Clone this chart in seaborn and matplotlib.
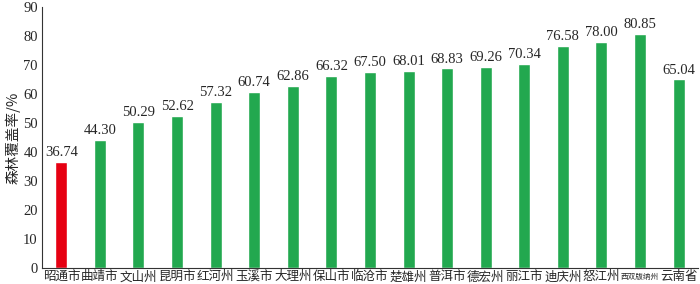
import matplotlib.pyplot as plt
import seaborn as sns
import pandas as pd
import numpy as np
from matplotlib.ticker import FixedLocator

# 数据
regions = ['昭通市', '曲靖市', '文山州', '昆明市', '红河州', '玉溪市', '大理州', '保山市',
           '临沧市', '楚雄州', '普洱市', '德宏州', '丽江市', '迪庆州', '怒江州', '西双版纳州', '云南省']
coverage = [36.74, 44.30, 50.29, 52.62, 57.32, 60.74, 62.86, 66.32,
            67.50, 68.01, 68.83, 69.26, 70.34, 76.58, 78.00, 80.85, 65.04]
colors = ['#E60012'] + ['#22A84F'] * (len(regions) - 1)

df = pd.DataFrame({'地区': regions, '森林覆盖率': coverage})

sns.set_style('white')
plt.rcParams['font.family'] = ['Liberation Serif', 'Noto Sans CJK SC', 'DejaVu Sans']

fig = plt.figure(figsize=(7, 2.84), dpi=100)
ax = fig.add_axes([0.06, 0.056, 0.937, 0.919])
sns.barplot(data=df, x='地区', y='森林覆盖率', hue='地区', palette=colors,
            width=0.31, legend=False, ax=ax, saturation=1)

for i, v in enumerate(coverage):
    ax.text(i, v + 1.0, f'{v:.2f}', ha='center', va='bottom', fontsize=10.5,
            family='Liberation Serif')

ax.set_xlim(-0.5, len(regions) - 0.5)
ax.set_ylim(0, 90)
ax.set_yticks(np.arange(0, 91, 10))
ax.set_ylabel('森林覆盖率/%', fontsize=10.5, family=['Noto Sans CJK SC'], labelpad=2)
ax.set_xlabel('')
ax.xaxis.set_minor_locator(FixedLocator(np.arange(0.5, len(regions) - 1, 1)))
ax.tick_params(axis='x', which='major', length=0, labelsize=9, pad=6.3)
ax.tick_params(axis='x', which='minor', length=4, direction='in', width=0.8, color='#333333')
ax.tick_params(axis='y', which='major', length=4, direction='in', width=0.8,
               labelsize=10.5, color='#333333', pad=3)
for lbl in ax.get_xticklabels():
    lbl.set_family(['Noto Sans CJK SC'])
    lbl.set_verticalalignment('center')
    if lbl.get_text() == '西双版纳州':
        lbl.set_fontsize(5.5)
for s in ['top', 'right']:
    ax.spines[s].set_visible(False)
for s in ['left', 'bottom']:
    ax.spines[s].set_color('#333333')
    ax.spines[s].set_linewidth(0.8)

fig.savefig('out.png', dpi=100)
